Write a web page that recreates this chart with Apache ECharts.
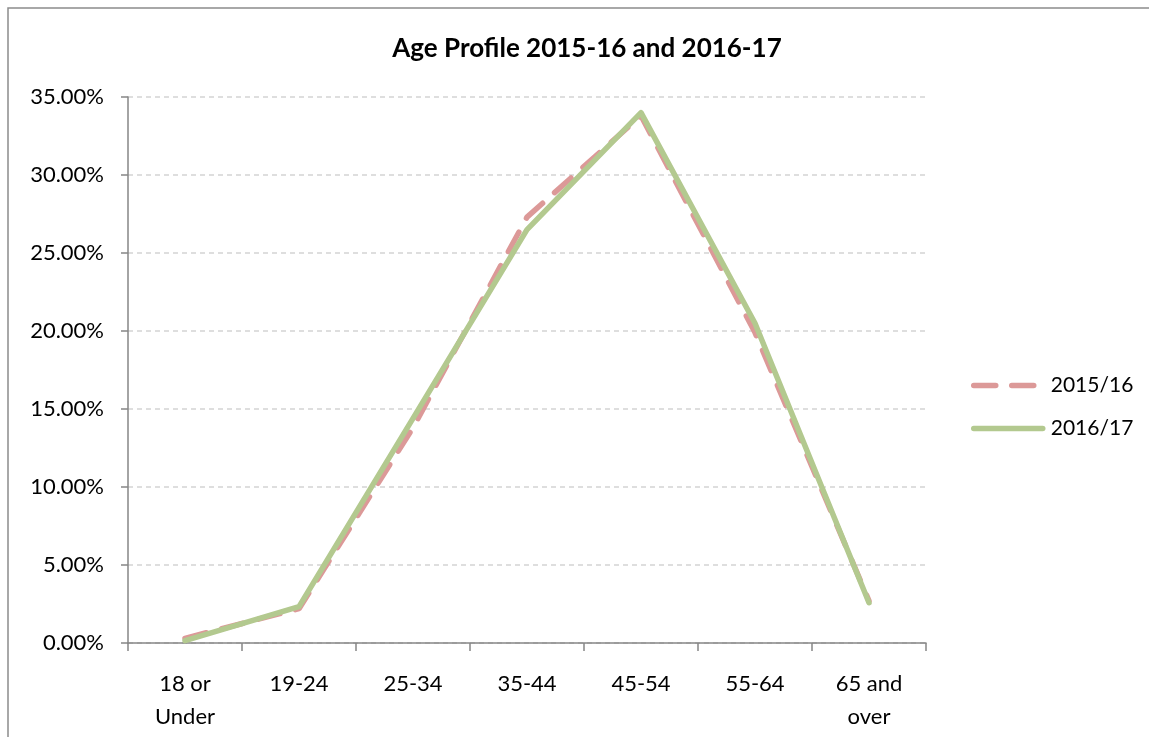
<!DOCTYPE html>
<html>
<head>
<meta charset="utf-8">
<script src="https://cdn.jsdelivr.net/npm/echarts@6/dist/echarts.min.js"></script>
<style>
  html, body { margin: 0; padding: 0; background: #fff; }
  #chart { width: 1149px; height: 737px; }
</style>
</head>
<body>
<div id="chart"></div>
<script>
const ageGroups = ['18 or\nUnder', '19-24', '25-34', '35-44', '45-54', '55-64', '65 and\nover']
const share1516 = [0.3, 2.2, 13.8, 27.3, 33.8, 19.9, 2.7]
const share1617 = [0.15, 2.33, 14.4, 26.5, 34.0, 20.5, 2.58]

const fontFamily = 'Lato, "Open Sans", sans-serif'

const chart = echarts.init(document.getElementById('chart'))

chart.setOption({
  animation: false,
  textStyle: { fontFamily },
  graphic: [{
    type: 'rect',
    shape: { x: 8, y: 8, width: 1300, height: 900 },
    style: { fill: 'none', stroke: '#8c8c8c', lineWidth: 1.5 }
  }],
  title: {
    text: 'Age Profile 2015-16 and 2016-17',
    left: 582,
    textAlign: 'center',
    top: 31,
    textStyle: { fontFamily, fontSize: 26, fontWeight: 'bold', color: '#000' }
  },
  legend: {
    orient: 'vertical',
    left: 966,
    top: 370,
    itemWidth: 69,
    itemHeight: 6,
    itemGap: 22,
    itemStyle: { opacity: 0 },
    lineStyle: { width: 5.5, cap: 'round' },
    textStyle: { fontFamily, fontSize: 21, color: '#000', padding: [0, 0, 0, 3] },
    data: ['2015/16', '2016/17']
  },
  grid: {
    left: 128,
    right: 223,
    top: 97,
    bottom: 94,
    containLabel: false
  },
  xAxis: {
    type: 'category',
    data: ageGroups,
    boundaryGap: true,
    axisLine: { lineStyle: { color: '#868686', width: 1.5 } },
    axisTick: { show: true, length: 8, lineStyle: { color: '#868686', width: 1.5 } },
    axisLabel: {
      interval: 0,
      margin: 24,
      fontSize: 22,
      lineHeight: 33,
      color: '#000',
      fontFamily
    },
    splitLine: { show: false }
  },
  yAxis: {
    type: 'value',
    min: 0,
    max: 35,
    interval: 5,
    axisLine: { show: true, lineStyle: { color: '#868686', width: 1.5 } },
    axisTick: { show: true, length: 7, lineStyle: { color: '#868686', width: 1.5 } },
    axisLabel: {
      margin: 24,
      fontSize: 22,
      color: '#000',
      fontFamily,
      formatter: v => v.toFixed(2) + '%'
    },
    splitLine: { show: true, lineStyle: { color: '#d4d4d4', type: [5, 4], width: 1.5 } }
  },
  series: [
    {
      name: '2015/16',
      type: 'line',
      data: share1516,
      symbol: 'none',
      lineStyle: { color: '#dc9998', width: 5.5, type: [22, 16], cap: 'round' },
      itemStyle: { color: '#dc9998' }
    },
    {
      name: '2016/17',
      type: 'line',
      data: share1617,
      symbol: 'none',
      lineStyle: { color: '#b3c98f', width: 5.5, cap: 'round', join: 'round' },
      itemStyle: { color: '#b3c98f' }
    }
  ]
})
</script>
</body>
</html>
